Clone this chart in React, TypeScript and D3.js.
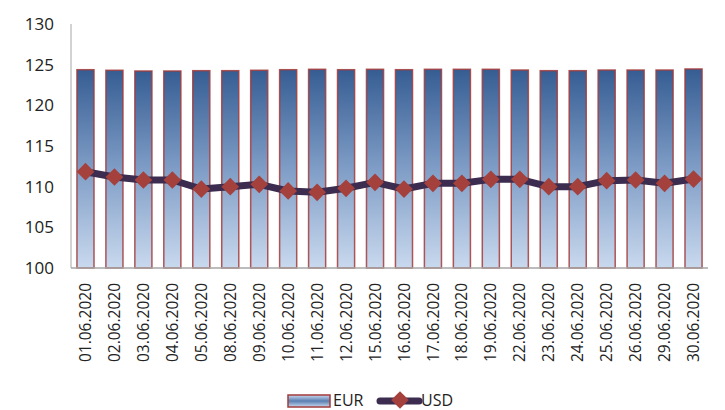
import * as d3 from "d3";
import { useEffect, useRef } from "react";

const dates = [
  "01.06.2020", "02.06.2020", "03.06.2020", "04.06.2020", "05.06.2020", "08.06.2020",
  "09.06.2020", "10.06.2020", "11.06.2020", "12.06.2020", "15.06.2020", "16.06.2020",
  "17.06.2020", "18.06.2020", "19.06.2020", "22.06.2020", "23.06.2020", "24.06.2020",
  "25.06.2020", "26.06.2020", "29.06.2020", "30.06.2020",
];

const eur = [
  124.38, 124.31, 124.22, 124.22, 124.26, 124.26, 124.31, 124.38, 124.43, 124.38, 124.43,
  124.38, 124.43, 124.43, 124.43, 124.34, 124.26, 124.26, 124.34, 124.34, 124.34, 124.47,
];

const usd = [
  111.84, 111.19, 110.82, 110.82, 109.71, 110.0, 110.29, 109.47, 109.31, 109.8, 110.53,
  109.71, 110.41, 110.41, 110.9, 110.9, 110.0, 110.0, 110.74, 110.82, 110.41, 110.94,
];

const yTicks = [100, 105, 110, 115, 120, 125, 130];

const W = 725;
const H = 410;
const FONT = "'Open Sans', sans-serif";

export default function App() {
  const svgRef = useRef<SVGSVGElement>(null);

  useEffect(() => {
    document.body.style.margin = "0";
    if (!svgRef.current) return;
    const svg = d3.select(svgRef.current);
    svg.selectAll("*").remove();

    const left = 71;
    const right = 708;
    const top = 24;
    const bottom = 268;

    const x = d3.scaleBand<string>().domain(dates).range([left, right]).paddingInner(0.41).paddingOuter(0.205);
    const y = d3.scaleLinear().domain([100, 130]).range([bottom, top]);

    // gradient for EUR bars
    const defs = svg.append("defs");
    const grad = defs
      .append("linearGradient")
      .attr("id", "eurGrad")
      .attr("x1", 0)
      .attr("y1", 0)
      .attr("x2", 0)
      .attr("y2", 1);
    grad.append("stop").attr("offset", "0%").attr("stop-color", "#365d93");
    grad.append("stop").attr("offset", "50%").attr("stop-color", "#7f9dc6");
    grad.append("stop").attr("offset", "100%").attr("stop-color", "#c9d9ee");

    const legGrad = defs
      .append("linearGradient")
      .attr("id", "legGrad")
      .attr("x1", 0)
      .attr("y1", 0)
      .attr("x2", 0)
      .attr("y2", 1);
    legGrad.append("stop").attr("offset", "0%").attr("stop-color", "#c9d9ee");
    legGrad.append("stop").attr("offset", "50%").attr("stop-color", "#5a7fb2");
    legGrad.append("stop").attr("offset", "100%").attr("stop-color", "#c9d9ee");

    // y tick labels
    svg
      .append("g")
      .selectAll("text")
      .data(yTicks)
      .join("text")
      .attr("x", 54)
      .attr("y", (d) => y(d))
      .attr("dy", "0.36em")
      .attr("text-anchor", "end")
      .style("font-family", FONT)
      .style("font-size", "17px")
      .style("fill", "#222")
      .text((d) => d);

    // bars
    svg
      .append("g")
      .selectAll("rect")
      .data(eur)
      .join("rect")
      .attr("x", (_d, i) => x(dates[i])!)
      .attr("y", (d) => y(d))
      .attr("width", x.bandwidth())
      .attr("height", (d) => bottom - y(d))
      .style("fill", "url(#eurGrad)")
      .style("stroke", "#a23b3b")
      .style("stroke-opacity", 0.85)
      .style("stroke-width", 1.5);

    // axes lines
    svg
      .append("line")
      .attr("x1", left)
      .attr("x2", left)
      .attr("y1", top)
      .attr("y2", bottom)
      .style("stroke", "#a6a6a6")
      .style("stroke-width", 1);
    svg
      .append("line")
      .attr("x1", left)
      .attr("x2", right)
      .attr("y1", bottom)
      .attr("y2", bottom)
      .style("stroke", "#a6a6a6")
      .style("stroke-width", 1.5);

    // USD line
    const cx = (i: number) => x(dates[i])! + x.bandwidth() / 2;
    const line = d3
      .line<number>()
      .x((_d, i) => cx(i))
      .y((d) => y(d));
    svg
      .append("path")
      .datum(usd)
      .attr("d", line)
      .style("fill", "none")
      .style("stroke", "#3b2c50")
      .style("stroke-width", 7)
      .style("stroke-linejoin", "round");

    const diamond = d3.symbol().type(d3.symbolDiamond2).size(200);
    svg
      .append("g")
      .selectAll("path")
      .data(usd)
      .join("path")
      .attr("d", diamond)
      .attr("transform", (d, i) => `translate(${cx(i)},${y(d)})`)
      .style("fill", "#a5413c");

    // x labels
    svg
      .append("g")
      .selectAll("text")
      .data(dates)
      .join("text")
      .attr("transform", (d) => `translate(${x(d)! + x.bandwidth() / 2},283) rotate(-90)`)
      .attr("text-anchor", "end")
      .attr("dy", "0.36em")
      .style("font-family", FONT)
      .style("font-size", "15.5px")
      .style("fill", "#222")
      .text((d) => d);

    // legend (sits at the very bottom edge, as in the source)
    const lg = svg.append("g");
    lg.append("rect")
      .attr("x", 288)
      .attr("y", 395)
      .attr("width", 42)
      .attr("height", 12)
      .style("fill", "url(#legGrad)")
      .style("stroke", "#a23b3b")
      .style("stroke-width", 1.5);
    lg.append("text")
      .attr("x", 333)
      .attr("y", 406)
      .style("font-family", FONT)
      .style("font-size", "16px")
      .style("fill", "#222")
      .text("EUR");
    lg.append("line")
      .attr("x1", 380)
      .attr("x2", 419)
      .attr("y1", 401)
      .attr("y2", 401)
      .style("stroke", "#3b2c50")
      .style("stroke-width", 7)
      .style("stroke-linecap", "round");
    lg.append("path")
      .attr("d", diamond)
      .attr("transform", "translate(400,400)")
      .style("fill", "#a5413c");
    lg.append("text")
      .attr("x", 421)
      .attr("y", 406)
      .style("font-family", FONT)
      .style("font-size", "16px")
      .style("fill", "#222")
      .text("USD");
  }, []);

  return <svg ref={svgRef} width={W} height={H} style={{ display: "block", background: "#fff" }} />;
}
